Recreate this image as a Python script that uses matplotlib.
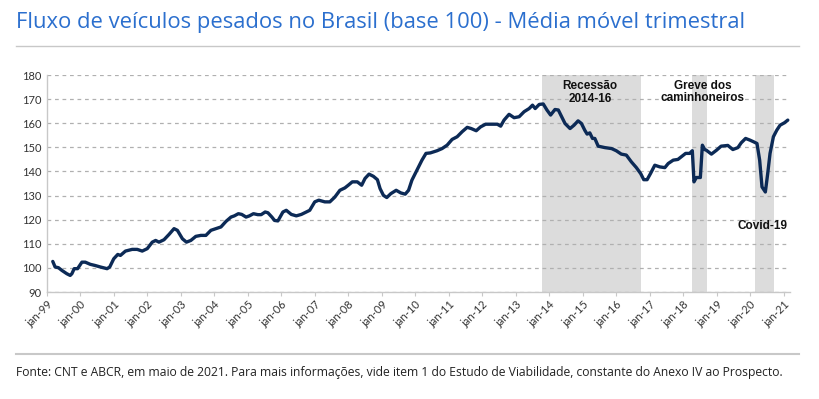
import numpy as np
import matplotlib
matplotlib.use('Agg')
import matplotlib.pyplot as plt

plt.rcParams['font.family'] = ['Lato', 'DejaVu Sans']

# fluxo de veiculos pesados (base 100), media movel trimestral
anos = [1999.18, 1999.25, 1999.35, 1999.45, 1999.6, 1999.7, 1999.75, 1999.82, 1999.92,
        2000.05, 2000.15, 2000.3, 2000.45, 2000.6, 2000.8, 2000.88,
        2001.0, 2001.12, 2001.2, 2001.35, 2001.55, 2001.7, 2001.85, 2002.0, 2002.15,
        2002.25, 2002.35, 2002.5, 2002.65, 2002.8, 2002.9, 2003.05, 2003.17, 2003.3,
        2003.45, 2003.6, 2003.75, 2003.9, 2004.05, 2004.2, 2004.35, 2004.5, 2004.6,
        2004.72, 2004.82, 2004.95, 2005.05, 2005.17, 2005.3, 2005.4, 2005.52, 2005.6,
        2005.72, 2005.8, 2005.9, 2006.05, 2006.15, 2006.3, 2006.45, 2006.6, 2006.75,
        2006.85, 2007.0, 2007.12, 2007.3, 2007.45, 2007.6, 2007.75, 2007.9, 2008.0,
        2008.12, 2008.27, 2008.4, 2008.5, 2008.62, 2008.75, 2008.87, 2008.95, 2009.05,
        2009.15, 2009.27, 2009.43, 2009.57, 2009.7, 2009.8, 2009.9, 2010.05, 2010.2,
        2010.32, 2010.45, 2010.65, 2010.8, 2010.95, 2011.1, 2011.25, 2011.4, 2011.55,
        2011.67, 2011.82, 2011.95, 2012.1, 2012.3, 2012.45, 2012.55, 2012.65, 2012.8,
        2012.95, 2013.1, 2013.25, 2013.4, 2013.5, 2013.58, 2013.7, 2013.82, 2013.93,
        2014.04, 2014.17, 2014.27, 2014.37, 2014.47, 2014.62, 2014.74, 2014.86, 2014.96,
        2015.06, 2015.13, 2015.21, 2015.29, 2015.36, 2015.46, 2015.66, 2015.86, 2016.0,
        2016.15, 2016.3, 2016.45, 2016.6, 2016.73, 2016.82, 2016.92, 2017.02, 2017.15,
        2017.3, 2017.45, 2017.55, 2017.7, 2017.84, 2017.94, 2018.07, 2018.19, 2018.27,
        2018.32, 2018.39, 2018.51, 2018.57, 2018.64, 2018.69, 2018.84, 2018.99, 2019.13,
        2019.33, 2019.48, 2019.63, 2019.73, 2019.86, 2019.99, 2020.1, 2020.2, 2020.28,
        2020.35, 2020.45, 2020.52, 2020.59, 2020.69, 2020.79, 2020.89, 2021.02, 2021.12]
fluxo = [102.7, 100.4, 100.1, 99.0, 97.6, 96.9, 97.6, 99.7, 99.7,
         102.4, 102.4, 101.5, 101.0, 100.4, 99.7, 100.4,
         103.8, 105.6, 105.2, 107.0, 107.7, 107.7, 107.0, 108.0, 110.7,
         111.4, 110.7, 111.7, 113.9, 116.3, 115.6, 112.1, 110.7, 111.4,
         113.1, 113.5, 113.5, 115.6, 116.3, 117.0, 119.3, 121.1, 121.6,
         122.5, 122.2, 121.1, 121.6, 122.5, 122.1, 122.1, 123.2, 122.9,
         121.1, 119.7, 119.5, 123.2, 123.9, 122.2, 121.6, 122.2, 123.2,
         123.9, 127.4, 128.1, 127.4, 127.4, 129.4, 132.2, 133.2, 134.3,
         135.7, 135.7, 134.3, 137.1, 138.9, 138.0, 136.6, 132.9, 130.1,
         129.2, 130.8, 132.2, 131.1, 130.6, 132.2, 136.4, 140.5, 144.7,
         147.5, 147.7, 148.6, 149.5, 150.9, 153.3, 154.4, 156.5, 158.3,
         157.8, 156.9, 158.5, 159.6, 159.6, 159.6, 158.8, 161.3, 163.7,
         162.3, 162.7, 164.8, 166.1, 167.5, 166.1, 167.8, 168.0, 165.5,
         163.4, 165.7, 165.5, 162.7, 159.9, 157.8, 159.2, 161.0, 159.9,
         157.1, 155.5, 156.0, 153.7, 153.7, 150.5, 149.9, 149.5, 148.6,
         147.2, 146.8, 144.0, 141.6, 139.1, 136.6, 136.6, 139.1, 142.6,
         141.9, 141.6, 143.3, 144.7, 145.0, 146.1, 147.5, 147.5, 148.6,
         135.7, 137.5, 137.5, 150.9, 149.1, 148.8, 147.2, 148.8, 150.5,
         150.8, 149.1, 149.9, 151.9, 153.7, 153.0, 152.3, 151.6, 144.7,
         133.6, 131.5, 139.1, 147.5, 154.4, 157.1, 159.2, 160.2, 161.3]

# periodos sombreados (inicio, fim) e rotulos
periodos = [(2013.78, 2016.75), (2018.25, 2018.7), (2020.15, 2020.7)]
rotulos = ['Recessão\n2014-16', 'Greve dos\ncaminhoneiros', 'Covid-19']
rotulos_x = [2015.22, 2018.58, 2020.36]
rotulos_y = [172.7, 173.0, 117.4]

anos_ticks = list(range(1999, 2022))
ticks_labels = ['jan-%02d' % (a % 100) for a in anos_ticks]

fig = plt.figure(figsize=(8.2, 3.99), dpi=100)
ax = fig.add_axes([0.057, 0.268, 0.907, 0.544])

for (ini, fim) in periodos:
    ax.axvspan(ini, fim, color='#dcdcdc', lw=0, zorder=0)

ax.plot(anos, fluxo, color='#0c2a56', lw=2.4, solid_capstyle='round', zorder=3)

for txt, x, y in zip(rotulos, rotulos_x, rotulos_y):
    ax.text(x, y, txt, ha='center', va='center', fontsize=8.5, fontweight='bold',
            color='#111111', family=['Liberation Sans', 'DejaVu Sans'], linespacing=1.05)

ax.set_xlim(1999, 2021.2)
ax.set_ylim(90, 180)
ax.set_yticks(range(90, 181, 10))
ax.set_xticks(anos_ticks)
ax.set_xticklabels(ticks_labels, rotation=45, ha='right', rotation_mode='anchor')
ax.tick_params(axis='both', labelsize=8, colors='#333333')
ax.tick_params(axis='x', length=3, color='#c8c8c8', pad=2)
ax.tick_params(axis='y', length=0, pad=4)
ax.grid(axis='y', linestyle=(0, (3, 3)), color='#b0b0b0', lw=0.9)
ax.set_axisbelow(True)
for s in ['top', 'right']:
    ax.spines[s].set_visible(False)
for s in ['left', 'bottom']:
    ax.spines[s].set_color('#c8c8c8')
    ax.spines[s].set_linewidth(1.0)

fig.text(0.02, 0.93, 'Fluxo de veículos pesados no Brasil (base 100) - Média móvel trimestral',
         fontsize=15.8, color='#2b6fce', va='baseline', family=['Open Sans', 'DejaVu Sans'])
fig.add_artist(plt.Line2D([0.02, 0.975], [0.885, 0.885], color='#c8c8c8', lw=1.0))
fig.add_artist(plt.Line2D([0.02, 0.975], [0.113, 0.113], color='#c8c8c8', lw=1.5))
fig.text(0.02, 0.058, 'Fonte: CNT e ABCR, em maio de 2021. Para mais informações, vide item 1 do '
         'Estudo de Viabilidade, constante do Anexo IV ao Prospecto.',
         fontsize=8.75, color='#222222', va='baseline', family=['Open Sans', 'DejaVu Sans'])

fig.savefig('out.png', dpi=100)
